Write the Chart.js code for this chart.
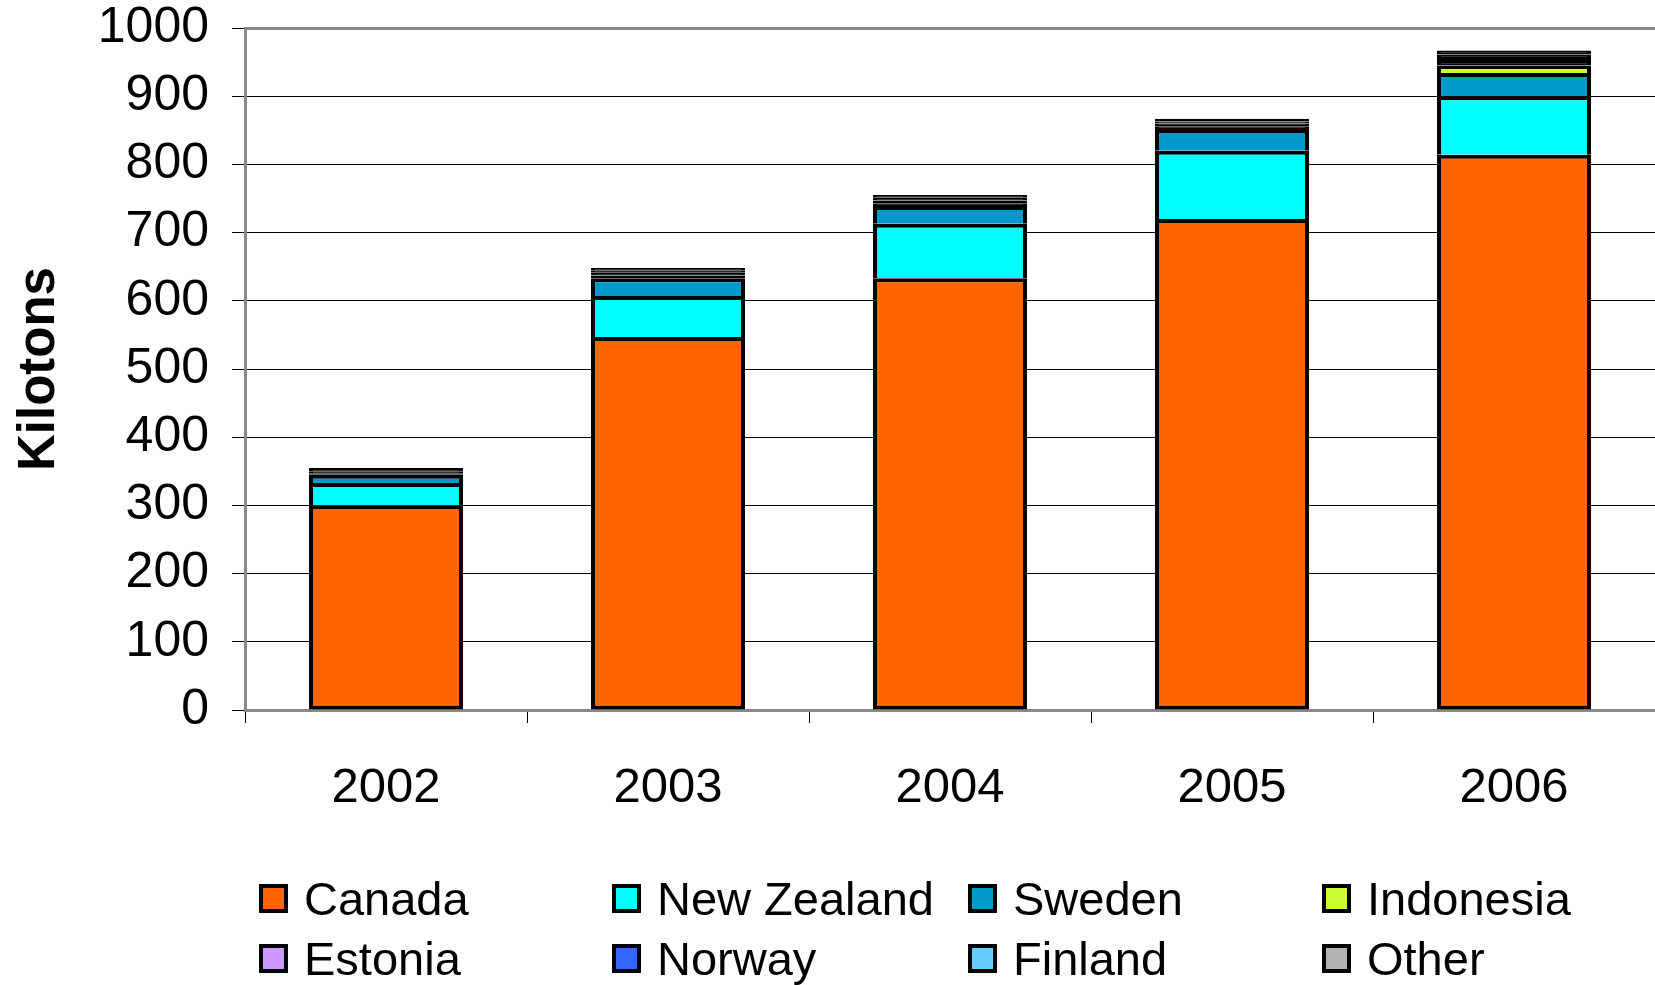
<!DOCTYPE html>
<html><head><meta charset="utf-8">
<script src="https://cdn.jsdelivr.net/npm/chart.js@4.4.1/dist/chart.umd.min.js"></script>
<style>
html,body{margin:0;padding:0;background:#fff;overflow:hidden;}
#wrap{position:relative;width:1655px;height:985px;}
canvas{position:absolute;left:0;top:0;}
#legend{position:absolute;left:259px;top:868px;display:grid;grid-template-columns:353px 356px 354px 330px;font-family:"Liberation Sans",Arial,sans-serif;font-size:47px;color:#000;}
.item{display:flex;align-items:center;height:60px;white-space:nowrap;}
.box{width:21px;height:21px;border:4px solid #000;margin-right:16px;flex:none;}
</style></head>
<body><div id="wrap"><canvas id="c" width="1655" height="985"></canvas><div id="legend"></div></div>
<script>
const categories = ["2002","2003","2004","2005","2006"];
const canada     = [300, 547, 633, 720, 814];
const newZealand = [33, 60, 80, 100, 86];
const sweden     = [12, 26, 26, 32, 34];
const indonesia  = [0, 0, 0, 0, 11];
const estonia    = [2, 4, 4, 4, 5];
const norway     = [3, 4, 4, 4, 6];
const finland    = [2, 3, 4, 3, 5];
const other      = [3, 4, 4, 4, 6];
const seriesNames = ["Canada","New Zealand","Sweden","Indonesia","Estonia","Norway","Finland","Other"];
const seriesColors = ["#FF6600","#00FFFF","#0099CC","#CCFF33","#CC99FF","#3366FF","#66CCFF","#B2B2B2"];
const seriesData = [canada, newZealand, sweden, indonesia, estonia, norway, finland, other];
const yTicksMax = 1000, yStep = 100;

// segments thinner than the outline are drawn fully covered by it, as in the original
function fillFor(color){
  return ctx => {
    const y = ctx.chart.scales && ctx.chart.scales.y;
    if (!y || ctx.raw == null) return color;
    const h = Math.abs(y.getPixelForValue(0) - y.getPixelForValue(ctx.raw));
    return h < 4.5 ? '#000' : color;
  };
}

const datasets = seriesNames.map((n,i)=>({
  label:n, data:seriesData[i], backgroundColor:fillFor(seriesColors[i]),
  borderColor:'#000', borderWidth:4, borderSkipped: i===0 ? false : 'start',
  barPercentage:0.546, categoryPercentage:1.0
}));

new Chart(document.getElementById('c'), {
  type:'bar',
  data:{labels:categories, datasets},
  options:{
    responsive:false, animation:false,
    layout:{padding:{top:28,bottom:175,left:0,right:0}},
    plugins:{legend:{display:false}, tooltip:{enabled:false}},
    scales:{
      x:{stacked:true,
        afterFit:s=>{s.height=100; s.paddingLeft=0; s.paddingRight=0;},
        border:{color:'#888',width:3},
        grid:{drawOnChartArea:false,drawTicks:true,tickLength:13,tickColor:'#000',tickWidth:1,offset:true},
        ticks:{color:'#000',padding:36,font:{family:'"Liberation Sans",Arial',size:49}}
      },
      y:{stacked:true,min:0,max:yTicksMax,
        afterFit:s=>{s.width=245; s.paddingTop=0; s.paddingBottom=0;},
        border:{color:'#888',width:3},
        grid:{
          color:c=> (c.tick && c.tick.value===yTicksMax) ? '#888' : '#000',
          lineWidth:c=> (c.tick && c.tick.value===yTicksMax) ? 3 : 1,
          tickLength:13,tickColor:'#000',tickWidth:1
        },
        ticks:{stepSize:yStep,color:'#000',padding:23,callback:v=>String(v),font:{family:'"Liberation Sans",Arial',size:50,lineHeight:1}},
        title:{display:true,text:'Kilotons',color:'#000',padding:{top:9,bottom:0},font:{family:'"Liberation Sans",Arial',size:51,weight:'bold'}}
      }
    }
  }
});

const lg=document.getElementById('legend');
seriesNames.forEach((n,i)=>{
  const d=document.createElement('div');d.className='item';
  d.innerHTML='<span class="box" style="background:'+seriesColors[i]+'"></span><span>'+n+'</span>';
  lg.appendChild(d);
});
</script></body></html>
